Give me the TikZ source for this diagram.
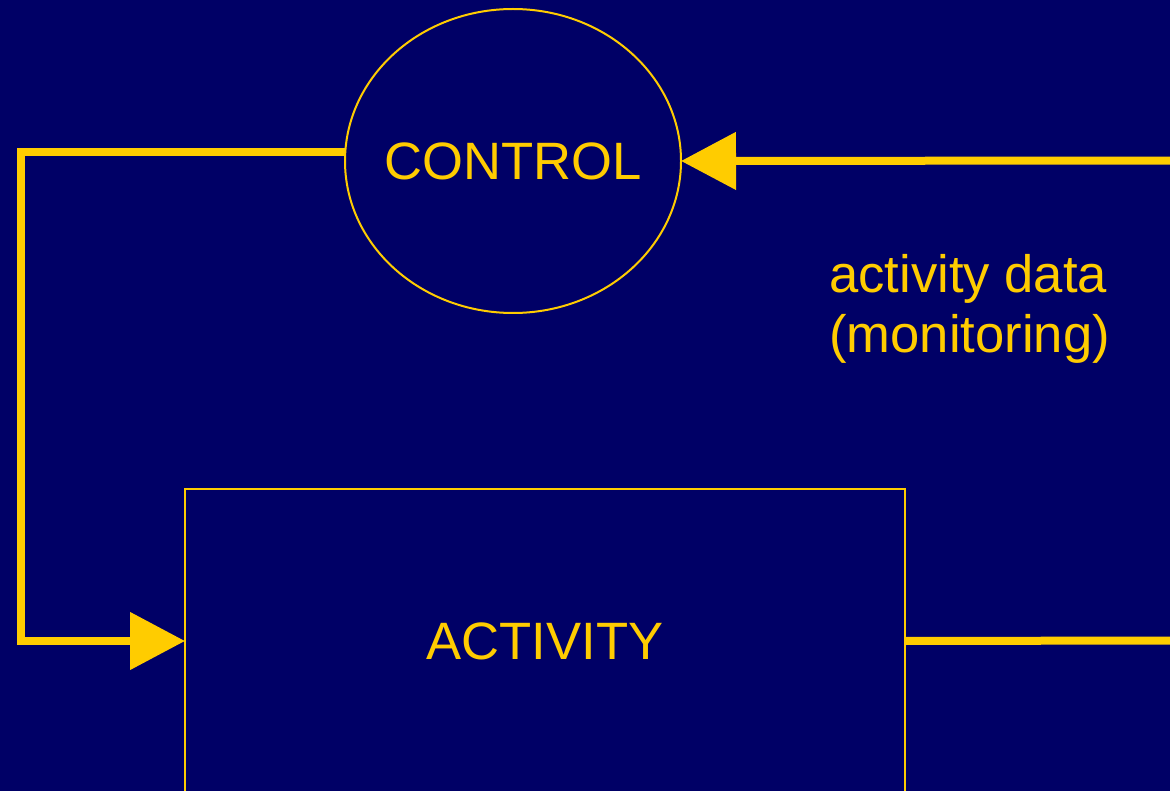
\documentclass[tikz,border=0pt]{standalone}
\usepackage{fontspec}
\setmainfont{Liberation Sans}
\usetikzlibrary{shapes.geometric,arrows.meta}
\definecolor{bg}{HTML}{000066}
\definecolor{gold}{HTML}{FFCC00}
\tikzset{
  lbl/.style={text=gold,font=\fontsize{52.6}{60}\selectfont},
  flow/.style={draw=gold,line width=8pt},
  tipflow/.style={flow,-{Triangle[length=55pt,width=56pt]}},
}
\begin{document}
\begin{tikzpicture}[x=1pt,y=-1pt]
\fill[bg] (0,0) rectangle (1170,791);
\useasboundingbox (0,0) rectangle (1170,791);
\node[ellipse,draw=gold,line width=2pt,minimum width=336pt,minimum height=304pt,inner sep=-60pt,outer sep=0pt,lbl] (ctrl) at (513,161) {CONTROL};
\node[rectangle,draw=gold,line width=2pt,minimum width=720pt,minimum height=304pt,inner sep=0pt,outer sep=0pt,lbl] (act) at (545,641) {ACTIVITY};
\node[lbl,anchor=base west,align=left,inner sep=0pt] (txt) at (829,353) {activity data\\(monitoring)};
\coordinate (lc) at (21,0);
\coordinate (rtop) at (1174,160.5);
\coordinate (rbot) at (1174,640.5);
\draw[tipflow,line join=miter] (ctrl.177) -- (ctrl.177 -| lc) |- (act.west);
\draw[tipflow] (rtop) -- (ctrl.east);
\draw[flow] (act.east) -- (rbot);
\end{tikzpicture}
\end{document}
